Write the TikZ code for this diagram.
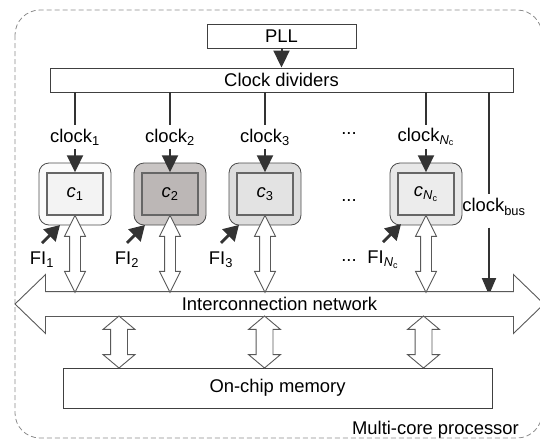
\documentclass[tikz,border=0pt]{standalone}
\usepackage{fontspec}
\setmainfont{Liberation Sans}
\usetikzlibrary{positioning, arrows.meta, shapes.arrows, calc}

\definecolor{darkline}{HTML}{333333}
\definecolor{cAout}{HTML}{FBFBFB}
\definecolor{cAin}{HTML}{F3F3F3}
\definecolor{cBout}{HTML}{C9C5C4}
\definecolor{cBin}{HTML}{BCB7B6}
\definecolor{cCout}{HTML}{DDDDDD}
\definecolor{cCin}{HTML}{E3E3E3}
\definecolor{cNout}{HTML}{E8E8E8}
\definecolor{cNin}{HTML}{ECECEC}

\begin{document}
\begin{tikzpicture}[x=1pt, y=-1pt,
        font=\fontsize{18.4}{22}\selectfont,
        every node/.style={inner sep=0pt},
        box/.style={draw=black!75, line width=0.9pt, fill=white},
        coreout/.style={draw=black!70, line width=0.8pt, rounded corners=10pt,
            minimum width=72pt, minimum height=62pt},
        corein/.style={draw=black!60, line width=1.4pt,
            minimum width=56pt, minimum height=42pt},
        clklab/.style={minimum height=24pt},
        clk/.style={draw=darkline, line width=2pt},
        clkarr/.style={clk, -{Triangle[length=17pt, width=16pt]}},
        fiarr/.style={draw=darkline, line width=2.8pt, -{Triangle[length=15pt, width=17pt]}},
        dbl/.style={double arrow, draw=black!65, fill=white, line width=0.9pt,
            double arrow head indent=0pt, inner xsep=0pt},
        dblcore/.style={dbl, rotate=90, minimum height=77pt, inner ysep=5pt,
            double arrow head extend=5pt, double arrow tip angle=53},
        dblmem/.style={dbl, rotate=90, minimum height=52pt, inner ysep=8pt,
            double arrow head extend=7.5pt, double arrow tip angle=100}
    ]
    \useasboundingbox (0,0) rectangle (540,439);

    % Rahmen
    \draw[black!45, line width=0.8pt, dash pattern=on 5pt off 3pt, rounded corners=25pt]
        (15,10) rectangle (542,438);
    \node[anchor=east] (mcp) at (519,430) {Multi-core processor};

    % Takt
    \node[box, minimum width=149pt, minimum height=24pt] (pll) at (281.5,36) {PLL};
    \node[box, minimum width=463pt, minimum height=24pt] (div) at (281.5,80) {Clock dividers};
    \draw[clkarr] (pll) -- (div);

    % Kerne
    \node[coreout, fill=cAout] (c1) at (75,194) {};
    \node[corein, fill=cAin] (c1i) at (c1) {\textit{c}\textsubscript{1}};
    \node[coreout, fill=cBout] (c2) at (170,194) {};
    \node[corein, fill=cBin] (c2i) at (c2) {\textit{c}\textsubscript{2}};
    \node[coreout, fill=cCout] (c3) at (265,194) {};
    \node[corein, fill=cCin] (c3i) at (c3) {\textit{c}\textsubscript{3}};
    \node[coreout, fill=cNout] (cN) at (426,194) {};
    \node[corein, fill=cNin] (cNi) at (cN) {\textit{c}\textsubscript{\textit{N}\textsubscript{c}}};

    % Taktleitungen
    \node[clklab] (clk1) at (75,137) {clock\textsubscript{1}};
    \node[clklab] (clk2) at (170,137) {clock\textsubscript{2}};
    \node[clklab] (clk3) at (265,137) {clock\textsubscript{3}};
    \node[clklab] (clkN) at (426,137) {clock\textsubscript{\textit{N}\textsubscript{c}}};
    \draw[clk] (div.south -| c1) -- (clk1.north -| c1);
    \draw[clk] (div.south -| c2) -- (clk2.north -| c2);
    \draw[clk] (div.south -| c3) -- (clk3.north -| c3);
    \draw[clk] (div.south -| cN) -- (clkN.north -| cN);
    \draw[clkarr] (clk1.south -| c1) -- (c1i.north);
    \draw[clkarr] (clk2.south -| c2) -- (c2i.north);
    \draw[clkarr] (clk3.south -| c3) -- (c3i.north);
    \draw[clkarr] (clkN.south -| cN) -- (cNi.north);

    % Bustakt
    \coordinate (busx) at (489,0);
    \coordinate (bustip) at (489,295);
    \node (clkbus) at (494,207) {clock\textsubscript{bus}};
    \draw[clk] (div.south -| busx) -- ($(clkbus.north -| busx)+(0,-4)$);
    \draw[clk, -{Triangle[length=17pt, width=14pt]}] ($(clkbus.south -| busx)+(0,12)$) -- (bustip);

    % Punkte
    \node (dots1) at (349,134) {...};
    \node (dots2) at (349,201) {...};
    \node (dots3) at (349,261) {...};

    % Fehlerinjektion
    \node (fi1) at (42,260) {FI\textsubscript{1}};
    \node (fi2) at (127,260) {FI\textsubscript{2}};
    \node (fi3) at (221,260) {FI\textsubscript{3}};
    \node (fiN) at (383,260) {FI\textsubscript{\textit{N}\textsubscript{c}}};
    \draw[fiarr] ($(fi1.north)+(0,-9)$) -- ++(18,-18);
    \draw[fiarr] ($(fi2.north)+(0,-9)$) -- ++(18,-18);
    \draw[fiarr] ($(fi3.north)+(0,-9)$) -- ++(18,-18);
    \draw[fiarr] ($(fiN.north)+(0,-9)$) -- ++(18,-18);

    % Verbindungsnetz
    \node[dbl, minimum height=529pt, text height=12pt, text depth=0pt, inner ysep=6pt,
        double arrow head extend=17pt, double arrow tip angle=88] (net) at (279.5,304)
        {Interconnection network};
    \coordinate (nettop) at (0,292);
    \coordinate (netbot) at (0,316);
    \node[dblcore] (a1) at ($(c1i.south)!0.5!(c1i.south |- nettop)$) {};
    \node[dblcore] (a2) at ($(c2i.south)!0.5!(c2i.south |- nettop)$) {};
    \node[dblcore] (a3) at ($(c3i.south)!0.5!(c3i.south |- nettop)$) {};
    \node[dblcore] (aN) at ($(cNi.south)!0.5!(cNi.south |- nettop)$) {};

    % Speicher
    \node[box, minimum width=429pt, minimum height=40pt] (mem) at (277.5,388) {On-chip memory};
    \node[dblmem] (m1) at (119,342) {};
    \node[dblmem] (m2) at (264.5,342) {};
    \node[dblmem] (m3) at (423.5,342) {};

\end{tikzpicture}
\end{document}
